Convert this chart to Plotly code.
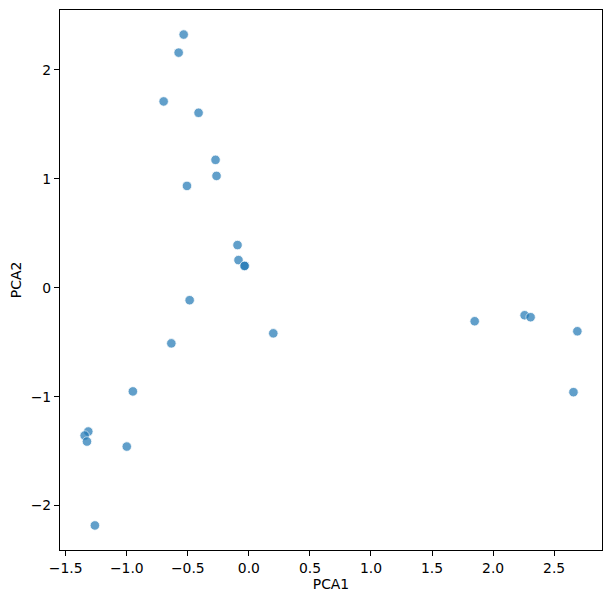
import plotly.graph_objects as go

pca1 = [-0.534, -0.575, -0.698, -0.412, -0.273, -0.265, -0.507,
        -0.093, -0.085, -0.035, -0.035, -0.485, 0.200, -0.635,
        -0.950, -1.315, -1.345, -1.326, -1.000, -1.261,
        1.849, 2.258, 2.307, 2.690, 2.658]
pca2 = [2.323, 2.157, 1.709, 1.605, 1.173, 1.026, 0.934,
        0.391, 0.253, 0.200, 0.200, -0.115, -0.419, -0.511,
        -0.952, -1.320, -1.357, -1.412, -1.458, -2.182,
        -0.308, -0.253, -0.271, -0.400, -0.959]
x_ticks = [-1.5, -1.0, -0.5, 0.0, 0.5, 1.0, 1.5, 2.0, 2.5]
y_ticks = [-2, -1, 0, 1, 2]


def padded(vals, frac=0.05):
    lo, hi = min(vals), max(vals)
    d = (hi - lo) * frac
    return [lo - d, hi + d]


def fmt(v, dec):
    s = f"{v:.{dec}f}"
    return s.replace("-", "\u2212")


font = dict(family="DejaVu Sans", size=13.9, color="black")

fig = go.Figure(go.Scatter(
    x=pca1, y=pca2, mode="markers",
    marker=dict(size=9.5, color="#1f77b4", opacity=0.7,
                line=dict(color="white", width=0.8)),
    showlegend=False,
))

axis_common = dict(
    showgrid=False, zeroline=False, showline=True, linecolor="black",
    linewidth=1.1, mirror=True, ticks="outside", ticklen=5, tickwidth=1.1,
    tickcolor="black", tickfont=font, automargin=False,
)
fig.update_xaxes(range=padded(pca1), tickvals=x_ticks,
                 ticktext=[fmt(v, 1) for v in x_ticks],
                 title=dict(text="PCA1", font=font, standoff=4), **axis_common)
fig.update_yaxes(range=padded(pca2), tickvals=y_ticks,
                 ticktext=[fmt(v, 0) for v in y_ticks],
                 title=dict(text="PCA2", font=font, standoff=8), **axis_common)

# the page body adds an 8 px offset, so the figure is sized to compensate
fig.update_layout(
    width=604, height=594,
    margin=dict(l=52, r=10, t=2, b=52, pad=0),
    paper_bgcolor="white", plot_bgcolor="white",
    font=font,
)

fig.write_html("out.html")
